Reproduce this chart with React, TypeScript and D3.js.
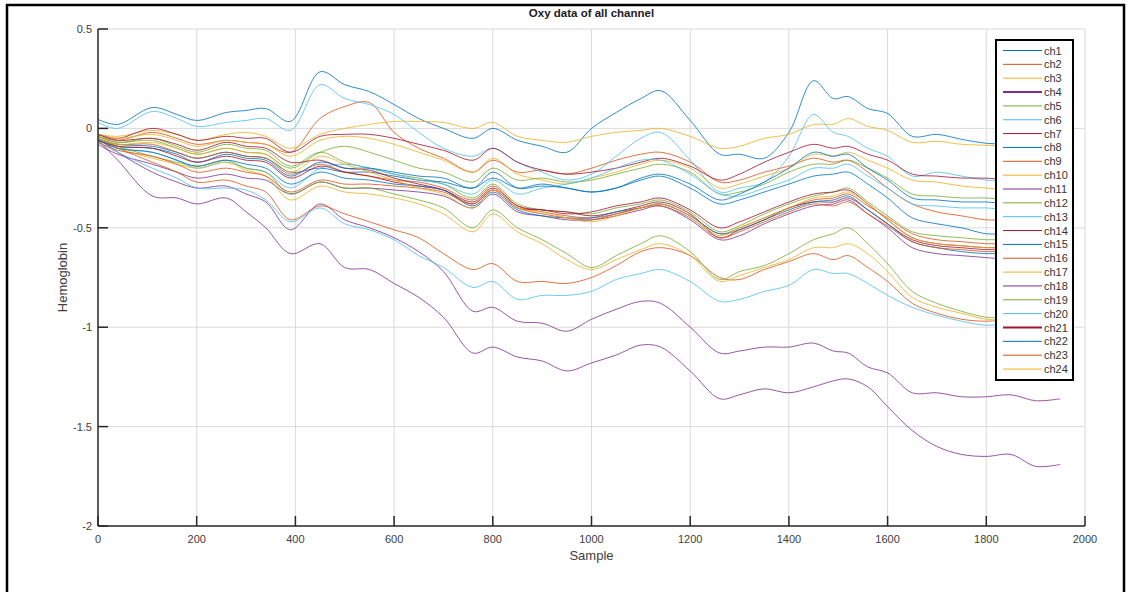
import * as d3 from "d3";

const width = 1132;
const height = 592;
const plotLeft = 98;
const plotRight = 1085;
const plotTop = 29;
const plotBottom = 526;

// sample positions shared by every channel
const sampleX = [0, 40, 110, 160, 200, 260, 300, 340, 390, 450, 500, 550, 600, 650, 700, 760, 800, 850, 900, 950, 1000, 1050, 1100, 1140, 1200, 1260, 1300, 1350, 1400, 1450, 1490, 1520, 1560, 1600, 1650, 1700, 1750, 1800, 1850, 1900, 1950];

const ch1 = [0.045, 0.02, 0.105, 0.07, 0.04, 0.08, 0.09, 0.1, 0.035, 0.285, 0.22, 0.185, 0.12, 0.05, 0.0, -0.05, 0.0, -0.06, -0.09, -0.12, 0.0, 0.08, 0.15, 0.19, 0.04, -0.13, -0.13, -0.15, -0.02, 0.24, 0.15, 0.16, 0.1, 0.075, -0.04, -0.03, -0.055, -0.075, -0.08, -0.085, -0.09];
const ch2 = [-0.04, -0.06, -0.02, -0.05, -0.08, -0.06, -0.07, -0.08, -0.12, 0.05, 0.11, 0.13, -0.02, -0.1, -0.15, -0.22, -0.16, -0.22, -0.21, -0.23, -0.2, -0.16, -0.13, -0.12, -0.17, -0.27, -0.26, -0.22, -0.19, -0.15, -0.17, -0.16, -0.22, -0.3, -0.38, -0.42, -0.44, -0.46, -0.46, -0.47, -0.47];
const ch3 = [-0.03, -0.04, -0.01, -0.03, -0.06, -0.03, -0.02, -0.04, -0.1, -0.03, 0.0, 0.02, 0.035, 0.035, 0.03, 0.0, 0.03, -0.04, -0.06, -0.07, -0.04, -0.02, -0.01, 0.0, -0.04, -0.1, -0.09, -0.05, -0.03, 0.02, 0.02, 0.05, 0.01, -0.01, -0.07, -0.065, -0.08, -0.085, -0.09, -0.09, -0.09];
const ch4 = [-0.05, -0.12, -0.22, -0.27, -0.3, -0.29, -0.33, -0.37, -0.51, -0.38, -0.46, -0.5, -0.55, -0.62, -0.72, -0.92, -0.9, -0.97, -0.98, -1.02, -0.96, -0.91, -0.87, -0.88, -1.0, -1.13, -1.12, -1.1, -1.1, -1.08, -1.12, -1.13, -1.2, -1.23, -1.33, -1.33, -1.35, -1.35, -1.34, -1.37, -1.36];
const ch5 = [-0.04, -0.07, -0.05, -0.09, -0.12, -0.08, -0.1, -0.11, -0.19, -0.12, -0.17, -0.2, -0.23, -0.25, -0.28, -0.35, -0.28, -0.38, -0.41, -0.42, -0.43, -0.4, -0.38, -0.36, -0.42, -0.52, -0.49, -0.43, -0.38, -0.34, -0.32, -0.3, -0.37, -0.44, -0.52, -0.54, -0.55, -0.56, -0.56, -0.57, -0.57];
const ch6 = [0.03, 0.0, 0.085, 0.05, 0.01, 0.03, 0.04, 0.05, -0.01, 0.22, 0.15, 0.12, 0.07, -0.02, -0.1, -0.14, -0.1, -0.17, -0.22, -0.26, -0.23, -0.14, -0.05, -0.02, -0.16, -0.32, -0.3, -0.27, -0.14, 0.07, -0.02, -0.04, -0.1, -0.14, -0.24, -0.22, -0.24, -0.26, -0.27, -0.28, -0.28];
const ch7 = [-0.03, -0.05, 0.0, -0.03, -0.06, -0.04, -0.05, -0.05, -0.12, -0.04, -0.03, -0.03, -0.05, -0.08, -0.11, -0.16, -0.1, -0.17, -0.21, -0.23, -0.22, -0.2, -0.17, -0.15, -0.19, -0.26, -0.23, -0.17, -0.12, -0.08, -0.1, -0.09, -0.13, -0.16, -0.23, -0.24, -0.25, -0.25, -0.26, -0.26, -0.26];
const ch8 = [-0.05, -0.08, -0.09, -0.12, -0.15, -0.12, -0.14, -0.15, -0.22, -0.2, -0.22, -0.22, -0.24, -0.26, -0.27, -0.3, -0.25, -0.3, -0.28, -0.3, -0.32, -0.3, -0.26, -0.24, -0.3, -0.38, -0.36, -0.32, -0.28, -0.24, -0.23, -0.22, -0.28, -0.35, -0.45, -0.48, -0.5, -0.53, -0.53, -0.54, -0.54];
const ch9 = [-0.05, -0.08, -0.08, -0.12, -0.15, -0.12, -0.14, -0.15, -0.23, -0.18, -0.22, -0.24, -0.26, -0.27, -0.3, -0.36, -0.29, -0.39, -0.42, -0.44, -0.45, -0.43, -0.4, -0.38, -0.44, -0.53, -0.5, -0.45, -0.4, -0.36, -0.35, -0.33, -0.39, -0.45, -0.53, -0.56, -0.57, -0.58, -0.58, -0.59, -0.59];
const ch10 = [-0.03, -0.05, -0.03, -0.06, -0.09, -0.06, -0.07, -0.08, -0.14, -0.06, -0.04, -0.05, -0.08, -0.12, -0.16, -0.22, -0.15, -0.23, -0.26, -0.28, -0.25, -0.22, -0.18, -0.16, -0.2, -0.3, -0.28, -0.24, -0.2, -0.13, -0.14, -0.12, -0.16, -0.2, -0.26, -0.27, -0.29, -0.3, -0.31, -0.31, -0.31];
const ch11 = [-0.08, -0.13, -0.18, -0.22, -0.25, -0.23, -0.25, -0.26, -0.33, -0.27, -0.3, -0.3, -0.31, -0.32, -0.34, -0.4, -0.33, -0.42, -0.44, -0.46, -0.46, -0.44, -0.41, -0.39, -0.46, -0.56, -0.54, -0.48, -0.43, -0.39, -0.38, -0.36, -0.43, -0.5, -0.6, -0.63, -0.64, -0.65, -0.66, -0.66, -0.66];
const ch12 = [-0.04, -0.07, -0.06, -0.1, -0.13, -0.1, -0.12, -0.13, -0.2, -0.12, -0.09, -0.12, -0.16, -0.2, -0.22, -0.27, -0.2, -0.26, -0.25, -0.27, -0.26, -0.23, -0.2, -0.18, -0.22, -0.33, -0.32, -0.28, -0.22, -0.18, -0.18, -0.16, -0.2, -0.25, -0.33, -0.34, -0.35, -0.35, -0.36, -0.36, -0.36];
const ch13 = [-0.06, -0.1, -0.12, -0.16, -0.2, -0.17, -0.2, -0.22, -0.3, -0.2, -0.18, -0.2, -0.23, -0.26, -0.28, -0.33, -0.26, -0.33, -0.3, -0.28, -0.25, -0.2, -0.16, -0.16, -0.23, -0.33, -0.34, -0.3, -0.26, -0.2, -0.2, -0.18, -0.24, -0.3, -0.38, -0.39, -0.4, -0.4, -0.41, -0.41, -0.41];
const ch14 = [-0.03, -0.06, -0.05, -0.08, -0.11, -0.07, -0.09, -0.1, -0.17, -0.16, -0.2, -0.21, -0.25, -0.28, -0.31, -0.38, -0.31, -0.4, -0.41, -0.43, -0.42, -0.39, -0.37, -0.35, -0.41, -0.5, -0.47, -0.42, -0.37, -0.33, -0.32, -0.31, -0.38, -0.46, -0.55, -0.58, -0.59, -0.6, -0.6, -0.61, -0.61];
const ch15 = [-0.05, -0.09, -0.1, -0.13, -0.17, -0.13, -0.15, -0.16, -0.24, -0.17, -0.2, -0.2, -0.22, -0.24, -0.25, -0.3, -0.22, -0.3, -0.29, -0.3, -0.32, -0.3, -0.25, -0.23, -0.28, -0.36, -0.33, -0.27, -0.2, -0.12, -0.14, -0.13, -0.2, -0.26, -0.35, -0.36, -0.37, -0.37, -0.38, -0.38, -0.38];
const ch16 = [-0.06, -0.1, -0.17, -0.22, -0.27, -0.26, -0.29, -0.32, -0.46, -0.39, -0.43, -0.47, -0.51, -0.55, -0.63, -0.71, -0.68, -0.77, -0.77, -0.78, -0.75, -0.69, -0.62, -0.6, -0.64, -0.75, -0.76, -0.71, -0.67, -0.63, -0.66, -0.64, -0.7, -0.77, -0.88, -0.93, -0.96, -0.97, -0.96, -0.96, -0.96];
const ch17 = [-0.06, -0.1, -0.15, -0.18, -0.2, -0.17, -0.21, -0.24, -0.36, -0.29, -0.32, -0.33, -0.35, -0.38, -0.43, -0.52, -0.43, -0.52, -0.58, -0.66, -0.71, -0.66, -0.61, -0.58, -0.64, -0.77, -0.74, -0.7, -0.66, -0.6, -0.6, -0.58, -0.63, -0.72, -0.85, -0.9, -0.93, -0.96, -0.96, -0.96, -0.96];
const ch18 = [-0.06, -0.16, -0.34, -0.35, -0.38, -0.35, -0.42, -0.5, -0.63, -0.58, -0.7, -0.71, -0.78, -0.85, -0.95, -1.13, -1.1, -1.15, -1.17, -1.22, -1.18, -1.14, -1.09, -1.1, -1.22, -1.36, -1.34, -1.31, -1.33, -1.3, -1.27, -1.26, -1.3, -1.4, -1.52, -1.6, -1.64, -1.65, -1.64, -1.7, -1.69];
const ch19 = [-0.05, -0.09, -0.14, -0.17, -0.19, -0.16, -0.2, -0.22, -0.33, -0.27, -0.3, -0.3, -0.33, -0.36, -0.4, -0.5, -0.41, -0.5, -0.56, -0.63, -0.7, -0.64, -0.58, -0.54, -0.62, -0.76, -0.72, -0.69, -0.63, -0.56, -0.53, -0.5, -0.58, -0.68, -0.82, -0.88, -0.92, -0.95, -0.95, -0.95, -0.95];
const ch20 = [-0.07, -0.12, -0.2, -0.25, -0.3, -0.3, -0.31, -0.36, -0.47, -0.4, -0.48, -0.51, -0.56, -0.64, -0.7, -0.8, -0.77, -0.86, -0.84, -0.84, -0.82, -0.76, -0.73, -0.71, -0.77, -0.87, -0.86, -0.82, -0.79, -0.71, -0.73, -0.73, -0.78, -0.84, -0.9, -0.94, -0.97, -0.99, -0.98, -0.98, -0.98];
const ch21 = [-0.06, -0.09, -0.1, -0.14, -0.17, -0.14, -0.16, -0.17, -0.25, -0.19, -0.22, -0.24, -0.27, -0.29, -0.31, -0.37, -0.3, -0.39, -0.41, -0.42, -0.44, -0.42, -0.39, -0.37, -0.43, -0.55, -0.51, -0.46, -0.4, -0.37, -0.37, -0.35, -0.41, -0.48, -0.56, -0.59, -0.6, -0.61, -0.61, -0.62, -0.62];
const ch22 = [-0.06, -0.1, -0.12, -0.16, -0.19, -0.16, -0.18, -0.2, -0.28, -0.22, -0.25, -0.26, -0.28, -0.29, -0.31, -0.39, -0.32, -0.41, -0.44, -0.45, -0.45, -0.42, -0.4, -0.38, -0.44, -0.53, -0.51, -0.46, -0.41, -0.37, -0.36, -0.34, -0.41, -0.48, -0.57, -0.6, -0.62, -0.63, -0.63, -0.64, -0.64];
const ch23 = [-0.07, -0.11, -0.14, -0.18, -0.22, -0.2, -0.22, -0.24, -0.32, -0.26, -0.28, -0.28, -0.29, -0.3, -0.32, -0.38, -0.31, -0.4, -0.43, -0.45, -0.46, -0.43, -0.4, -0.39, -0.45, -0.55, -0.52, -0.47, -0.42, -0.38, -0.39, -0.37, -0.43, -0.49, -0.57, -0.6, -0.61, -0.62, -0.62, -0.63, -0.63];
const ch24 = [-0.05, -0.08, -0.07, -0.1, -0.13, -0.1, -0.12, -0.13, -0.22, -0.14, -0.18, -0.22, -0.26, -0.3, -0.33, -0.4, -0.31, -0.4, -0.42, -0.45, -0.47, -0.44, -0.4, -0.38, -0.44, -0.54, -0.5, -0.45, -0.4, -0.35, -0.34, -0.32, -0.38, -0.46, -0.55, -0.58, -0.59, -0.6, -0.6, -0.6, -0.6];

const channels = [ch1, ch2, ch3, ch4, ch5, ch6, ch7, ch8, ch9, ch10, ch11, ch12, ch13, ch14, ch15, ch16, ch17, ch18, ch19, ch20, ch21, ch22, ch23, ch24];
const channelNames = channels.map((_, i) => `ch${i + 1}`);

// MATLAB default colour order
const lineColors = ["#0072BD", "#D95319", "#EDB120", "#7E2F8E", "#77AC30", "#4DBEEE", "#A2142F"];

const xTicks = [0, 200, 400, 600, 800, 1000, 1200, 1400, 1600, 1800, 2000];
const yTicks = [0.5, 0, -0.5, -1, -1.5, -2];

const font = "'Liberation Sans', Arial, Helvetica, sans-serif";

export default function App() {
  const xScale = d3.scaleLinear().domain([0, 2000]).range([plotLeft, plotRight]);
  const yScale = d3.scaleLinear().domain([-2, 0.5]).range([plotBottom, plotTop]);

  const line = d3
    .line<number>()
    .x((_, i) => xScale(sampleX[i]))
    .y((d) => yScale(d))
    .curve(d3.curveCatmullRom.alpha(0.5));

  // legend placement
  const legX = 996;
  const legY = 40;
  const legW = 77;
  const legRow = 13.85;
  const legH = 340;

  return (
    <svg
      width={width}
      height={height}
      style={{ position: "absolute", left: 0, top: 0, background: "#fff" }}
    >
      <rect x={0} y={0} width={width} height={height} fill="#fff" />
      {/* outer frame */}
      <rect x={7} y={5} width={1117} height={700} fill="none" stroke="#000" strokeWidth={2.5} />

      {/* grid */}
      <g stroke="#dadada" strokeWidth={1}>
        {xTicks.slice(1).map((t) => (
          <line key={"gx" + t} x1={xScale(t)} x2={xScale(t)} y1={plotTop} y2={plotBottom} />
        ))}
        {yTicks.slice(0, -1).map((t) => (
          <line key={"gy" + t} x1={plotLeft} x2={plotRight} y1={yScale(t)} y2={yScale(t)} />
        ))}
      </g>

      {/* channel lines */}
      <g fill="none" strokeWidth={0.9} strokeOpacity={0.9}>
        {channels.map((vals, i) => (
          <path key={channelNames[i]} d={line(vals) || ""} stroke={lineColors[i % 7]} />
        ))}
      </g>

      {/* axes */}
      <g stroke="#262626" strokeWidth={1.5}>
        <line x1={plotLeft} x2={plotLeft} y1={plotTop} y2={plotBottom} />
        <line x1={plotLeft} x2={plotRight} y1={plotBottom} y2={plotBottom} />
        {xTicks.map((t) => (
          <line key={"tx" + t} x1={xScale(t)} x2={xScale(t)} y1={plotBottom} y2={plotBottom - 10} />
        ))}
        {yTicks.map((t) => (
          <line key={"ty" + t} x1={plotLeft} x2={plotLeft + 10} y1={yScale(t)} y2={yScale(t)} />
        ))}
      </g>
      <g fontFamily={font} fontSize={11} fill="#404040">
        {xTicks.map((t) => (
          <text key={"lx" + t} x={xScale(t)} y={plotBottom + 17} textAnchor="middle">
            {t}
          </text>
        ))}
        {yTicks.map((t) => (
          <text key={"ly" + t} x={plotLeft - 6} y={yScale(t) + 4} textAnchor="end">
            {t}
          </text>
        ))}
      </g>

      <text
        x={(plotLeft + plotRight) / 2}
        y={17}
        textAnchor="middle"
        fontFamily={font}
        fontSize={11.5}
        fontWeight="bold"
        fill="#1a1a1a"
      >
        Oxy data of all channel
      </text>
      <text
        x={(plotLeft + plotRight) / 2}
        y={560}
        textAnchor="middle"
        fontFamily={font}
        fontSize={13}
        fill="#404040"
      >
        Sample
      </text>
      <text
        transform={`translate(67,${(plotTop + plotBottom) / 2}) rotate(-90)`}
        textAnchor="middle"
        fontFamily={font}
        fontSize={13}
        fill="#404040"
      >
        Hemoglobin
      </text>

      {/* legend */}
      <rect x={legX} y={legY} width={legW} height={legH} fill="#fff" stroke="#000" strokeWidth={2} />
      {channelNames.map((name, i) => {
        const cy = legY + 10.5 + i * legRow;
        return (
          <g key={"leg" + name}>
            <line
              x1={legX + 7}
              x2={legX + 46}
              y1={cy}
              y2={cy}
              stroke={lineColors[i % 7]}
              strokeWidth={name === "ch4" || name === "ch21" ? 2 : 1}
            />
            <text x={legX + 48} y={cy + 4} fontFamily={font} fontSize={11} fill="#333">
              {name}
            </text>
          </g>
        );
      })}
    </svg>
  );
}
